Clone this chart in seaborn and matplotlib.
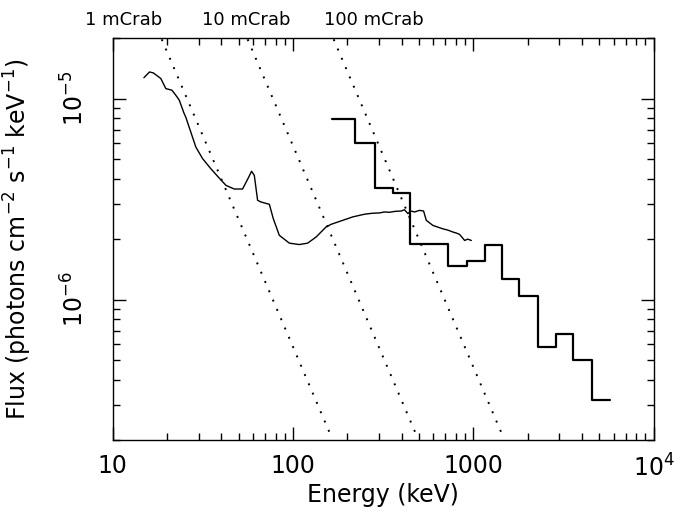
import matplotlib
matplotlib.use('Agg')
import matplotlib.pyplot as plt
import matplotlib.ticker as mticker
import seaborn as sns

# continuum spectrum (keV, photons cm-2 s-1 keV-1)
curve_e = [14.9, 16.0, 16.8, 18.5, 19.7, 21.3, 22.4, 23.4, 24.9, 25.4, 27.1, 28.9,
           31.5, 35.0, 39.0, 42.5, 47.2, 52.5, 56.0, 58.9, 61.0, 63.6, 66.4, 73.9,
           77.7, 83.9, 95.4, 108.4, 120.5, 134.3, 152.5, 162.6, 188.6, 214.3, 249,
           275, 301.6, 322, 342.8, 370, 398.1, 415, 433.3, 450, 472, 503, 529.6,
           548.3, 575, 596.6, 640, 677.9, 720, 770.3, 810, 839.4, 894.8, 930, 974.8]
curve_f = [1.27e-5, 1.356e-5, 1.341e-5, 1.257e-5, 1.121e-5, 1.10e-5, 1.038e-5, 9.81e-6,
           8.42e-6, 8.1e-6, 6.82e-6, 5.74e-6, 5.03e-6, 4.48e-6, 4.02e-6, 3.70e-6,
           3.55e-6, 3.55e-6, 3.97e-6, 4.35e-6, 4.15e-6, 3.12e-6, 3.06e-6, 2.98e-6,
           2.53e-6, 2.09e-6, 1.91e-6, 1.88e-6, 1.91e-6, 2.05e-6, 2.30e-6, 2.37e-6,
           2.48e-6, 2.58e-6, 2.66e-6, 2.69e-6, 2.70e-6, 2.73e-6, 2.72e-6, 2.75e-6,
           2.76e-6, 2.80e-6, 2.68e-6, 2.76e-6, 2.73e-6, 2.78e-6, 2.76e-6, 2.48e-6,
           2.40e-6, 2.34e-6, 2.29e-6, 2.25e-6, 2.22e-6, 2.17e-6, 2.14e-6, 2.11e-6,
           1.97e-6, 2.00e-6, 1.97e-6]

# binned spectrum
bin_edges = [163.9, 221.0, 286.6, 357.6, 442.8, 722.5, 926.1, 1166, 1442, 1792,
             2285, 2866, 3576, 4571, 5716]
bin_flux = [7.95e-6, 6.04e-6, 3.59e-6, 3.41e-6, 1.90e-6, 1.47e-6, 1.56e-6, 1.88e-6,
            1.27e-6, 1.04e-6, 5.84e-7, 6.72e-7, 4.99e-7, 3.16e-7]

# mCrab reference lines, end points
crab_labels = ['1 mCrab', '10 mCrab', '100 mCrab']
crab_e = [[18.7, 159.6], [56.0, 477], [168, 1430]]
crab_f = [1.97e-5, 2.18e-7]

sns.set_style('ticks')
plt.rcParams['font.family'] = ['DejaVu Sans']
plt.rcParams['text.color'] = 'black'
plt.rcParams['axes.labelcolor'] = 'black'
plt.rcParams['xtick.color'] = 'black'
plt.rcParams['ytick.color'] = 'black'

fig, ax = plt.subplots(figsize=(6.91, 5.17), dpi=100)
fig.subplots_adjust(left=0.1631, right=0.946, bottom=0.1484, top=0.9265)

for e in crab_e:
    sns.lineplot(x=e, y=crab_f, ax=ax, color='black', lw=1.4,
                 linestyle=(0, (1, 4.2)))

sns.lineplot(x=curve_e, y=curve_f, ax=ax, color='black', lw=1.0)
sns.lineplot(x=bin_edges, y=bin_flux + [bin_flux[-1]], ax=ax, color='black',
             lw=1.6, drawstyle='steps-post')

ax.set_xscale('log')
ax.set_yscale('log')
ax.set_xlim(10, 1e4)
ax.set_ylim(2e-7, 2e-5)

ax.set_xticks([10, 100, 1000, 10000])
ax.set_xticklabels(['10', '100', '1000', '$10^4$'])
ax.set_yticks([1e-6, 1e-5])
ax.set_yticklabels(['$10^{-6}$', '$10^{-5}$'], rotation=90, va='center')
ax.xaxis.set_minor_formatter(mticker.NullFormatter())
ax.yaxis.set_minor_formatter(mticker.NullFormatter())

for s in ax.spines.values():
    s.set_linewidth(1.0)
    s.set_color('black')
ax.tick_params(which='both', direction='in', top=True, right=True, color='black',
               labelcolor='black', width=1.0, labelsize=17)
ax.tick_params(which='major', length=9.5)
ax.tick_params(which='minor', length=5)
ax.tick_params(axis='x', which='both', pad=10)
ax.tick_params(axis='y', which='both', pad=17)

ax.set_xlabel('Energy (keV)', fontsize=17, va='center', color='black')
ax.xaxis.set_label_coords(0.5, -0.136)
ax.set_ylabel('Flux (photons cm$^{-2}$ s$^{-1}$ keV$^{-1}$)', fontsize=17,
              va='center', color='black')
ax.yaxis.set_label_coords(-0.175, 0.5)

label_x = [85, 202, 324]
for lab, px in zip(crab_labels, label_x):
    fig.text(px / 691, 1 - 20 / 517, lab, fontsize=13, va='center', ha='left',
             color='black')

fig.savefig('out.png', dpi=100)
